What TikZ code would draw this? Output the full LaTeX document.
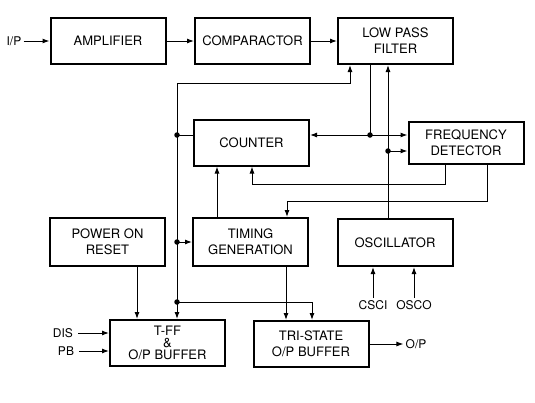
\documentclass[tikz,border=0pt]{standalone}
\usepackage{fontspec}
\setmainfont{TeX Gyre Heros}
\usetikzlibrary{arrows.meta,calc}

\begin{document}
\begin{tikzpicture}[
    x=1pt, y=-1pt,
    blk/.style={draw, line width=2pt, minimum width=115pt, minimum height=46pt, align=center, inner sep=1pt, font=\fontsize{13}{16}\selectfont},
    lbl/.style={font=\fontsize{12}{14}\selectfont, inner sep=2pt},
    arr/.style={-{Latex[length=7pt,width=5pt]}, line width=1pt},
    wire/.style={line width=1pt},
    dot/.style={circle, fill, inner sep=0pt, minimum size=5.5pt},
]
\useasboundingbox (0,0) rectangle (535,402);

% Blocks
\node[blk] (amp) at (108,41) {AMPLIFIER};
\node[blk] (comp) at (252.5,41) {COMPARACTOR};
\node[blk] (lpf) at (395.5,41) {LOW PASS\\FILTER};
\node[blk] (counter) at (251.5,142.5) {COUNTER};
\node[blk, minimum height=42pt] (freq) at (466,143) {FREQUENCY\\DETECTOR};
\node[blk, minimum height=48pt] (por) at (107.5,242) {POWER ON\\RESET};
\node[blk, minimum height=48pt] (timing) at (250.5,242) {TIMING\\GENERATION};
\node[blk, minimum height=47pt] (osc) at (395,242.5) {OSCILLATOR};
\node[blk, font=\fontsize{13}{12}\selectfont] (tff) at (167.5,343) {T-FF\\\&\\O/P BUFFER};
\node[blk] (tri) at (311,344) {TRI-STATE\\O/P BUFFER};

% Pins
\node[lbl] (ip) at (14,41) {I/P};
\node[lbl] (dis) at (63,333) {DIS};
\node[lbl] (pb) at (66,351) {PB};
\node[lbl] (csci) at (373,305) {CSCI};
\node[lbl] (osco) at (414,305) {OSCO};
\node[lbl] (op) at (416,344) {O/P};

% Main path
\draw[arr] (ip) -- (amp);
\draw[arr] (amp) -- (comp);
\draw[arr] (comp) -- (lpf);

% Bus on the left
\coordinate (bus1) at (177,83);
\coordinate (bus2) at (177,135);
\coordinate (bus3) at (177,242);
\coordinate (bus4) at (177,302);
\draw[arr] (bus2) -- (bus1) -| ([xshift=-45.5pt]lpf.south);
\draw[arr] (bus1) -- (bus1 |- tff.north);
\draw[wire] (bus2) -- (bus2 -| counter.west);
\draw[arr] (bus3) -- (timing.west);
\draw[arr] (bus4) -| ([xshift=1pt]tri.north);
\node[dot] at (bus2) {};
\node[dot] at (bus3) {};
\node[dot] at (bus4) {};

% Filter outputs
\coordinate (lo) at ([xshift=-25.5pt]lpf.south);
\coordinate (ldot) at (lo |- bus2);
\draw[wire] (lo) -- (ldot);
\draw[arr] (ldot) -- (ldot -| counter.east);
\draw[arr] (ldot) -- (ldot -| freq.west);
\node[dot] at (ldot) {};

% Oscillator
\coordinate (oo) at ([xshift=-7pt]osc.north);
\coordinate (fw) at ([yshift=-8pt]freq.west);
\coordinate (odot) at (oo |- fw);
\draw[arr] (oo) -- (oo |- lpf.south);
\draw[arr] (odot) -- (fw);
\node[dot] at (odot) {};

% Detector feedback
\coordinate (fa) at ([xshift=-21pt]freq.south);
\coordinate (fb) at ([xshift=21pt]freq.south);
\coordinate (cb) at ([xshift=0.5pt]counter.south);
\coordinate (ta) at ([xshift=36.5pt]timing.north);
\draw[arr] (fa) -- ++(0,19) -| (cb);
\draw[arr] (fb) -- ++(0,36) -| (ta);

% Timing generation
\coordinate (tc) at ([xshift=-33.5pt]timing.north);
\coordinate (tg) at ([xshift=35.5pt]timing.south);
\draw[arr] (tc) -- (tc |- counter.south);
\draw[arr] (tg) -- (tg |- tri.north);

% Power on reset
\coordinate (pr) at ([xshift=29.5pt]por.south);
\draw[arr] (pr) -- (pr |- tff.north);

% Inputs and output
\draw[arr, shorten <=3pt] (dis) -- (dis -| tff.west);
\draw[arr, shorten <=3pt] (pb.east) -- (pb -| tff.west);
\draw[arr] (csci) -- (csci |- osc.south);
\draw[arr] (osco) -- (osco |- osc.south);
\draw[arr] (tri) -- (op);

\end{tikzpicture}
\end{document}
